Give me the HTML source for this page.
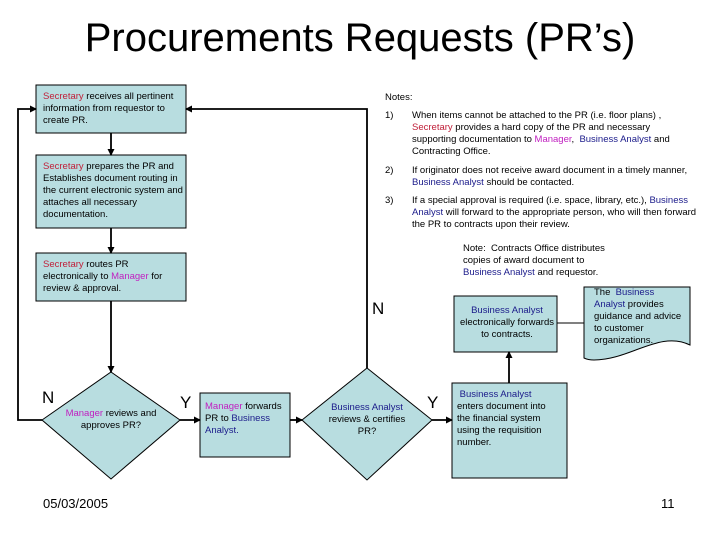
<!DOCTYPE html>
<html><head><style>
body{margin:0;width:720px;height:540px;background:#fff;position:relative;font-family:"Liberation Sans",sans-serif;overflow:hidden}
.t{position:absolute;font-size:9.5px;line-height:12px;color:#000}
.r{color:#c0203a}.m{color:#c020c0}.b{color:#1a1a8a}
</style></head><body>
<div style="position:absolute;left:0;width:720px;top:16px;text-align:center;font-size:40px">Procurements Requests (PR’s)</div>
<svg width="720" height="540" style="position:absolute;left:0;top:0">
<defs><marker id="a" markerUnits="userSpaceOnUse" markerWidth="7" markerHeight="7" refX="6" refY="3.5" orient="auto"><path d="M0,0L7,3.5L0,7z" fill="#000"/></marker></defs>
<g fill="#b8dde0" stroke="#000" stroke-width="1">
<rect x="36" y="85" width="150" height="48"/>
<rect x="36" y="155" width="150" height="73"/>
<rect x="36" y="253" width="150" height="48"/>
<polygon points="111,372 180,420 111,479 42,420"/>
<rect x="200" y="393" width="90" height="64"/>
<polygon points="367,368 432,420 367,480 302,420"/>
<rect x="452" y="383" width="115" height="95"/>
<rect x="454" y="296" width="103" height="56"/>
<path d="M584,287 H690 V345 C660,330 630,360 594,360 Q588,360 584,358 Z"/>
</g>
<g stroke="#000" stroke-width="1.8" fill="none">
<line x1="111" y1="133" x2="111" y2="155" marker-end="url(#a)"/>
<line x1="111" y1="228" x2="111" y2="253" marker-end="url(#a)"/>
<line x1="111" y1="301" x2="111" y2="372" marker-end="url(#a)"/>
<polyline points="42,420 18,420 18,109 36,109" marker-end="url(#a)"/>
<line x1="180" y1="420" x2="200" y2="420" marker-end="url(#a)"/>
<line x1="290" y1="420" x2="302" y2="420" marker-end="url(#a)"/>
<polyline points="367,368 367,109 186,109" marker-end="url(#a)"/>
<line x1="432" y1="420" x2="452" y2="420" marker-end="url(#a)"/>
<line x1="509" y1="383" x2="509" y2="352" marker-end="url(#a)"/>
</g>
<line x1="557" y1="323" x2="584" y2="323" stroke="#000" stroke-width="1"/>
</svg>
<div class="t" style="left:43px;top:91px;width:142px"><span class="r">Secretary</span> receives all pertinent information from requestor to create PR.</div>
<div class="t" style="left:43px;top:161px;width:142px"><span class="r">Secretary</span> prepares the PR and Establishes document routing in the current electronic system and attaches all necessary documentation.</div>
<div class="t" style="left:43px;top:259px;width:125px"><span class="r">Secretary</span> routes PR electronically to <span class="m">Manager</span> for review &amp; approval.</div>
<div class="t" style="left:60px;top:408px;width:102px;text-align:center"><span class="m">Manager</span> reviews and approves PR?</div>
<div class="t" style="left:205px;top:401px;width:85px"><span class="m">Manager</span> forwards PR to <span class="b">Business Analyst.</span></div>
<div class="t" style="left:322px;top:402px;width:90px;text-align:center"><span class="b">Business Analyst</span> reviews &amp; certifies PR?</div>
<div class="t" style="left:457px;top:389px;width:102px">&nbsp;<span class="b">Business Analyst</span> enters document into the financial system using the requisition number.</div>
<div class="t" style="left:457px;top:305px;width:100px;text-align:center"><span class="b">Business Analyst</span> electronically forwards to contracts.</div>
<div class="t" style="left:594px;top:287px;width:92px">The &nbsp;<span class="b">Business Analyst</span> provides guidance and advice to customer organizations.</div>
<div class="t" style="left:385px;top:92px">Notes:</div>
<div class="t" style="left:385px;top:110px">1)</div>
<div class="t" style="left:412px;top:110px;width:280px"><span style="white-space:nowrap">When items cannot be attached to the PR (i.e. floor plans) ,</span> <span class="r">Secretary</span> provides a hard copy of the PR and necessary supporting documentation to <span class="m">Manager</span>, &nbsp;<span class="b">Business Analyst</span> and Contracting Office.</div>
<div class="t" style="left:385px;top:165px">2)</div>
<div class="t" style="left:412px;top:165px;width:300px">If originator does not receive award document in a timely manner, <span class="b">Business Analyst</span> should be contacted.</div>
<div class="t" style="left:385px;top:195px">3)</div>
<div class="t" style="left:412px;top:195px;width:296px">If a special approval is required (i.e. space, library, etc.), <span class="b">Business Analyst</span> will forward to the appropriate person, who will then forward the PR to contracts upon their review.</div>
<div class="t" style="left:463px;top:243px;width:150px">Note: &nbsp;Contracts Office distributes copies of award document to <span class="b">Business Analyst</span> and requestor.</div>
<div style="position:absolute;left:372px;top:299px;font-size:17px">N</div>
<div style="position:absolute;left:42px;top:388px;font-size:17px">N</div>
<div style="position:absolute;left:180px;top:393px;font-size:17px">Y</div>
<div style="position:absolute;left:427px;top:393px;font-size:17px">Y</div>
<div style="position:absolute;left:43px;top:496px;font-size:13px">05/03/2005</div>
<div style="position:absolute;left:661px;top:496px;font-size:13px">11</div>
</body></html>
